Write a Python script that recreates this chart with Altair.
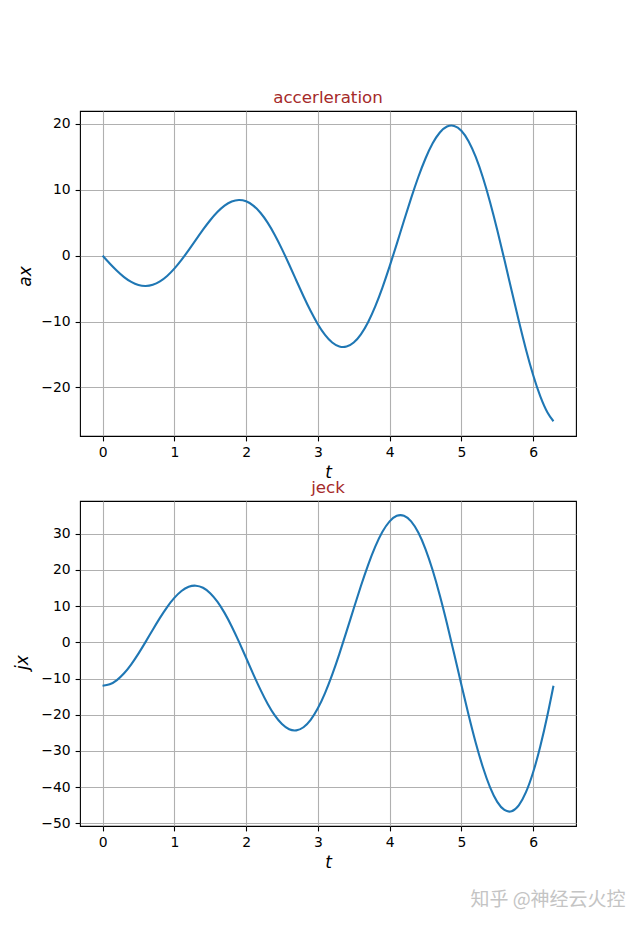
import altair as alt
import pandas as pd

# ---- data ----
t_vals = [0.0, 0.1, 0.2, 0.3, 0.4, 0.5, 0.6, 0.7, 0.8, 0.9,
          1.0, 1.1, 1.2, 1.3, 1.4, 1.5, 1.6, 1.7, 1.8, 1.9,
          2.0, 2.1, 2.2, 2.3, 2.4, 2.5, 2.6, 2.7, 2.8, 2.9,
          3.0, 3.1, 3.2, 3.3, 3.4, 3.5, 3.6, 3.7, 3.8, 3.9,
          4.0, 4.1, 4.2, 4.3, 4.4, 4.5, 4.6, 4.7, 4.8, 4.9,
          5.0, 5.1, 5.2, 5.3, 5.4, 5.5, 5.6, 5.7, 5.8, 5.9,
          6.0, 6.1, 6.2, 6.2832]

acc_vals = [0.00, -1.19, -2.29, -3.25, -3.98, -4.45, -4.60, -4.42, -3.90, -3.08,
            -1.97, -0.64, 0.84, 2.39, 3.94, 5.38, 6.62, 7.60, 8.23, 8.46,
            8.26, 7.60, 6.51, 5.01, 3.14, 1.00, -1.34, -3.76, -6.16, -8.41,
            -10.40, -12.02, -13.18, -13.79, -13.80, -13.18, -11.93, -10.09, -7.69, -4.84,
            -1.63, 1.80, 5.31, 8.74, 11.94, 14.75, 17.05, 18.70, 19.60, 19.70,
            18.96, 17.37, 14.98, 11.86, 8.12, 3.90, -0.63, -5.29, -9.89, -14.23,
            -18.11, -21.35, -23.80, -25.13]

jerk_vals = [-12.00, -11.60, -10.43, -8.55, -6.07, -3.12, 0.13, 3.48, 6.75, 9.74,
             12.27, 14.18, 15.33, 15.64, 15.06, 13.57, 11.23, 8.13, 4.39, 0.19,
             -4.27, -8.76, -13.06, -16.94, -20.18, -22.58, -24.00, -24.31, -23.45, -21.41,
             -18.23, -14.02, -8.93, -3.18, 3.01, 9.35, 15.56, 21.34, 26.41, 30.51,
             33.41, 34.93, 34.95, 33.41, 30.32, 25.77, 19.90, 12.93, 5.12, -3.20,
             -11.69, -19.98, -27.71, -34.50, -40.04, -44.05, -46.30, -46.64, -45.00, -41.38,
             -35.88, -28.69, -20.05, -12.00]

x_ticks = [0, 1, 2, 3, 4, 5, 6]
acc_ticks = [-20, -10, 0, 10, 20]
jerk_ticks = [-50, -40, -30, -20, -10, 0, 10, 20, 30]

t_domain = [-0.3142, 6.5973]
acc_domain = [-27.37, 21.96]
jerk_domain = [-50.72, 39.03]

panel_titles = ["accerleration", "jeck"]
y_titles = ["ax", "jx"]
x_title = "t"
watermark = "知乎 @神经云火控"

FONT = "DejaVu Sans"
W, H = 496, 325

df = pd.DataFrame({"t": t_vals, "a": acc_vals, "j": jerk_vals})


def panel(field, title, ytitle, ydomain, yticks, tx, ty):
    line = alt.Chart(df).mark_line(
        color="#1f77b4", strokeWidth=2.1, interpolate="natural"
    ).encode(
        x=alt.X("t:Q",
                scale=alt.Scale(domain=t_domain, nice=False, zero=False),
                axis=alt.Axis(values=x_ticks, title=x_title, format="d",
                              titleY=41, titleBaseline="alphabetic")),
        y=alt.Y(f"{field}:Q",
                scale=alt.Scale(domain=ydomain, nice=False, zero=False),
                axis=alt.Axis(values=yticks, title=ytitle, format="d",
                              titleX=tx, titleY=ty, titleAngle=270,
                              titleAlign="center", titleBaseline="alphabetic")),
    )
    return line, alt.TitleParams(text=title, color="#a52a2a", font=FONT,
                                 fontSize=16.7, fontWeight="normal", offset=-9,
                                 baseline="alphabetic", anchor="middle", frame="group")


top_line, top_title = panel("a", panel_titles[0], y_titles[0], acc_domain, acc_ticks, -50, 165)
bot_line, bot_title = panel("j", panel_titles[1], y_titles[1], jerk_domain, jerk_ticks, -53, 161)

wm = alt.Chart(pd.DataFrame({"label": [watermark]})).mark_text(
    font="Noto Sans CJK SC", fontSize=19, color="#c4c4c4",
    align="center", baseline="middle"
).encode(text="label:N", x=alt.value(468), y=alt.value(399))

top = top_line.properties(width=W, height=H, title=top_title)
bottom = alt.layer(bot_line, wm).properties(width=W, height=H, title=bot_title)

chart = alt.vconcat(top, bottom, spacing=65, bounds="flush").properties(
    padding={"left": 4, "top": 81, "right": 0, "bottom": 0},
    background="white",
).configure_view(
    stroke="black", strokeWidth=1.1
).configure_axis(
    labelFont=FONT, labelFontSize=13.9, labelColor="black", labelPadding=4.9,
    labelFlush=False,
    tickSize=4.9, tickColor="black", tickWidth=1.1,
    grid=True, gridColor="#b0b0b0", gridWidth=1.1, gridOpacity=1,
    domain=False,
    titleFont=FONT, titleFontSize=17, titleFontStyle="italic",
    titleFontWeight="normal", titleColor="black",
)

chart.save("out.html", embed_options={"renderer": "svg", "actions": False})
